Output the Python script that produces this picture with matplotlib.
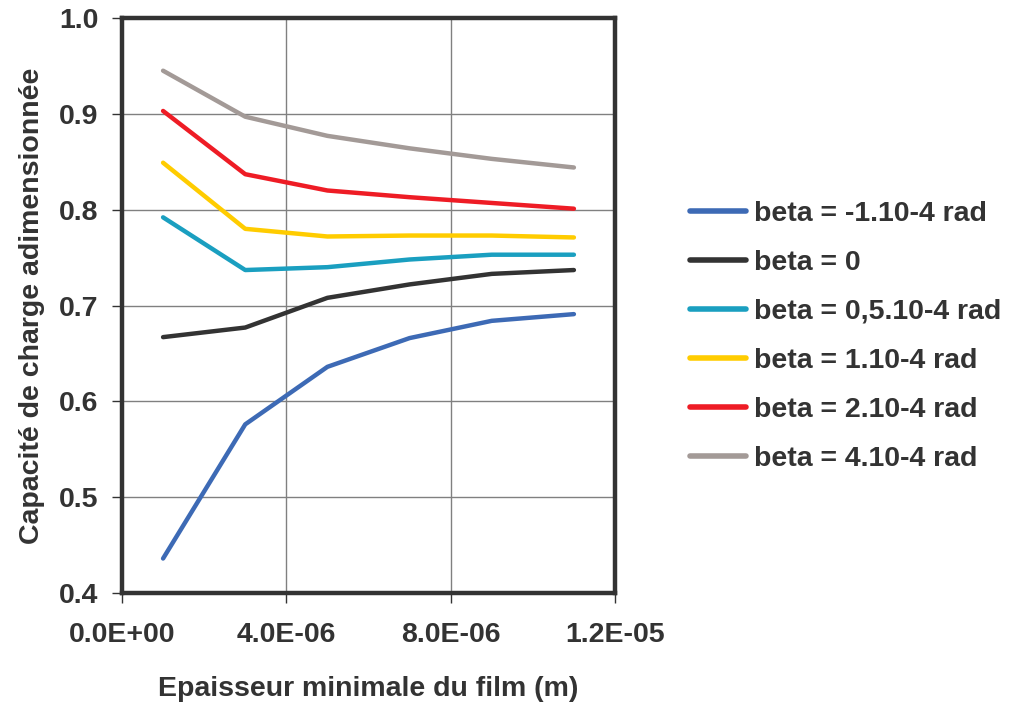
import matplotlib
matplotlib.use("Agg")
import matplotlib.pyplot as plt
from matplotlib.ticker import FixedLocator, FuncFormatter

plt.rcParams['font.family'] = ['Liberation Sans', 'DejaVu Sans']
plt.rcParams['font.weight'] = 'bold'

epaisseur = [1e-6, 3e-6, 5e-6, 7e-6, 9e-6, 1.1e-5]

beta_m1 = [0.436, 0.576, 0.636, 0.666, 0.684, 0.691]
beta_0 = [0.667, 0.677, 0.708, 0.722, 0.733, 0.737]
beta_05 = [0.792, 0.737, 0.740, 0.748, 0.753, 0.753]
beta_1 = [0.849, 0.780, 0.772, 0.773, 0.773, 0.771]
beta_2 = [0.903, 0.837, 0.820, 0.813, 0.807, 0.801]
beta_4 = [0.945, 0.897, 0.877, 0.864, 0.853, 0.844]

labels = ["beta = -1.10-4 rad", "beta = 0", "beta = 0,5.10-4 rad",
          "beta = 1.10-4 rad", "beta = 2.10-4 rad", "beta = 4.10-4 rad"]
colors = ["#3d6ab5", "#333333", "#1a9fc0", "#ffcc00", "#ee1c25", "#a39a97"]
series = [beta_m1, beta_0, beta_05, beta_1, beta_2, beta_4]

x_ticks = [0.0, 4e-6, 8e-6, 1.2e-5]
x_ticklabels = ["0.0E+00", "4.0E-06", "8.0E-06", "1.2E-05"]
y_ticks = [0.4, 0.5, 0.6, 0.7, 0.8, 0.9, 1.0]

FS = 20.5
TXT = "#333333"

fig = plt.figure(figsize=(10.09, 7.08), dpi=100)
ax = fig.add_axes([0.1209, 0.1624, 0.4886, 0.8122])

for vals, col, lab in zip(series, colors, labels):
    ax.plot(epaisseur, vals, color=col, lw=3.2, label=lab, solid_capstyle='round')

ax.set_xlim(0, 1.2e-5)
ax.set_ylim(0.4, 1.0)
ax.xaxis.set_major_locator(FixedLocator(x_ticks))
ax.set_xticklabels(x_ticklabels)
ax.yaxis.set_major_locator(FixedLocator(y_ticks))
ax.yaxis.set_major_formatter(FuncFormatter(lambda v, p: f"{v:.1f}"))

ax.grid(True, color="#808080", lw=1.0)
ax.set_axisbelow(True)
for s in ax.spines.values():
    s.set_linewidth(3.2)
    s.set_color(TXT)

ax.tick_params(axis='both', direction='out', length=7, width=1, color=TXT,
               labelsize=FS, labelcolor=TXT)
ax.tick_params(axis='x', pad=14)
ax.tick_params(axis='y', pad=10)
for t in ax.get_xticklabels() + ax.get_yticklabels():
    t.set_fontweight('bold')

ax.set_xlabel("Epaisseur minimale du film (m)", fontsize=FS, fontweight='bold',
              color=TXT, labelpad=20)
ax.set_ylabel("Capacité de charge adimensionnée", fontsize=FS, fontweight='bold',
              color=TXT, labelpad=10)

leg = fig.legend(loc='center left', bbox_to_anchor=(0.684, 0.525), frameon=False,
                 handlelength=1.95, handletextpad=0.28, labelspacing=0.81,
                 borderpad=0, borderaxespad=0,
                 prop={'weight': 'bold', 'size': FS})
for t in leg.get_texts():
    t.set_color(TXT)
for h in leg.get_lines():
    h.set_linewidth(4)

fig.savefig("out.png", dpi=100)
